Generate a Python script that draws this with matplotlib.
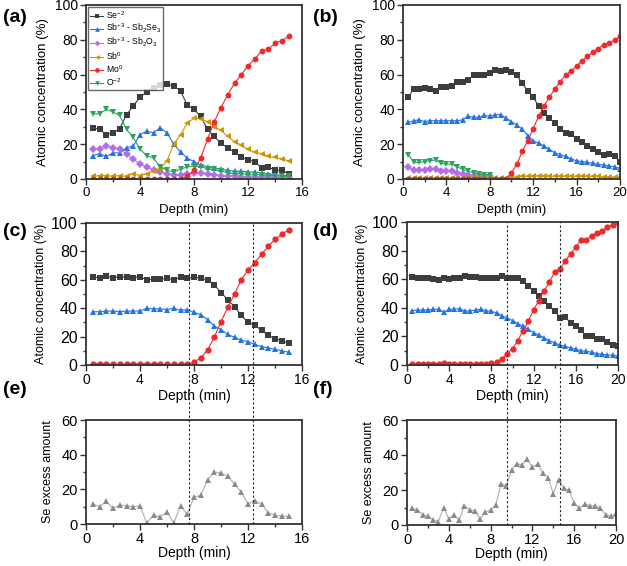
import numpy as np
import matplotlib
matplotlib.use('Agg')
import matplotlib.pyplot as plt
from matplotlib.lines import Line2D
from matplotlib.ticker import MultipleLocator
import matplotlib.transforms as mtransforms

plt.rcParams['font.family'] = ['Liberation Sans', 'DejaVu Sans']
plt.rcParams['mathtext.fontset'] = 'custom'
plt.rcParams['mathtext.rm'] = 'Liberation Sans'

# ---- data ----
depth_a = np.arange(1, 31) * 0.5
se_a = [29.5, 28.5, 25.5, 26.5, 29, 37, 42, 47, 50, 52.5, 54, 54.5, 53.5, 50.5, 42.5,
        40, 36, 28.5, 24.5, 20.5, 18, 15.5, 12.5, 11, 10, 6.5, 7, 5, 5, 3]
sbse_a = [13.5, 14.5, 13, 15, 15, 18, 19, 25.5, 27.5, 26.5, 29.5, 26.5, 20, 15.5, 12,
          10, 8, 7, 6.5, 5.5, 5, 4.5, 4.5, 4, 4, 3.5, 3, 2.5, 2, 2]
sbo_a = [17.5, 17.5, 19, 18, 17, 14.5, 11.5, 8.5, 7, 5, 4, 3, 2.5, 2.5, 3,
         3.5, 3.5, 3, 2.5, 2, 1.5, 1.5, 1, 1, 1, 1, 1, 1, 0.5, 0.5]
sb0_a = [1.5, 2, 2, 1.5, 2, 1.5, 3, 2, 3, 4.5, 6, 10.5, 20, 25.5, 32,
         35, 34.5, 33, 30, 28, 24.5, 21.5, 19.5, 17, 15.5, 14.5, 13, 12.5, 11.5, 10.5]
mo_a = [0, 0, 0, 0, 0, 0, 0, 0, 0, 0, 0, 0, 0, 0, 1.5,
        5, 12, 23, 33, 41, 48.5, 55, 60, 65, 69, 73.5, 74.5, 78, 79.5, 82]
o_a = [37.5, 37.5, 40, 38.5, 36.5, 28.5, 24, 17, 13.5, 12, 7, 5, 4, 5.5, 7,
       7.5, 7, 6, 5.5, 4.5, 3.5, 3, 3, 2.5, 2.5, 2.5, 2, 2, 1.5, 1.5]

depth_b = np.arange(1, 41) * 0.5
se_b = [47, 52, 52, 52.5, 51.5, 50.5, 53, 53, 53.5, 55.5, 56, 57, 59.5, 60, 60, 61, 62.5, 62, 62.5, 61.5,
        59.5, 55, 50.5, 47, 42, 38, 35, 32, 29, 26.5, 26, 23, 21, 19, 17.5, 15.5, 14, 14.5, 13, 10]
sbse_b = [32.5, 33.5, 34, 33, 33.5, 33.5, 33.5, 33.5, 33.5, 33.5, 34, 36, 35.5, 35.5, 36.5, 36, 37, 37, 35, 33,
          31, 28.5, 25, 22, 20.5, 19, 17, 15, 14, 13, 11.5, 10.5, 10, 9.5, 9, 8.5, 8, 7.5, 7, 6]
sbo_b = [7, 5, 5, 5, 5.5, 5.5, 4.5, 4.5, 4.5, 3.5, 3, 2.5, 2, 2, 1.5, 1.5]
sb0_b = [0.3] * 18 + [0.5, 1, 1, 1.5, 1.5, 1.5, 2, 2, 1.5, 1.5, 1.5, 1.5, 1.5, 1.5, 1.5, 1.5, 1.5, 1.5, 1, 1, 1, 1]
mo_b = [0] * 19 + [3.5, 8.5, 16, 22, 29, 36, 42, 47, 52, 56, 60, 62, 65, 68, 70.5, 73, 75, 77, 78, 80, 82]
o_b = [14, 9.5, 9.5, 10, 10.5, 11, 9, 8.5, 8.5, 7, 5.5, 4.5, 3.5, 3, 2.5, 2.5]

se_c = [62, 61.5, 62.5, 61.5, 62, 62, 61.5, 62, 60, 60.5, 60.5, 61, 60, 62, 61,
        62, 61, 60, 56.5, 51, 46, 41, 35, 30, 28, 24.5, 21, 18.5, 17, 15.5]
sbse_c = [37.5, 37.5, 38, 38, 37.5, 38, 38, 38, 40, 39.5, 39.5, 39, 40, 38.5, 39,
          37, 35.5, 32, 27.5, 25, 21.5, 19.5, 17.5, 16.5, 14.5, 13, 12, 11, 10, 9]
mo_c = [1, 1, 0.5, 0.5, 0.5, 0.5, 1, 0.5, 1, 0.5, 0.5, 0.5, 0.5, 0.5, 0.5,
        2, 5, 10.5, 19.5, 30.5, 40.5, 50, 60, 67, 72, 78, 83.5, 88.5, 92, 95]

se_d = [61.5, 61, 60.5, 60.5, 60, 59.5, 61, 60, 61, 61, 62, 61.5, 61.5, 60.5, 60.5, 61, 61, 62.5, 61, 60.5,
        60.5, 58.5, 55, 52, 48, 45, 41, 38, 33, 33.5, 29.5, 27, 24.5, 20, 20.5, 18.5, 18, 16, 14, 13]
sbse_d = [38, 38.5, 38.5, 38.5, 39, 39, 37, 39, 39, 39.5, 37.5, 38, 38.5, 39, 38, 37.5, 36.5, 34.5, 33, 31,
          29, 27, 25, 22.5, 21, 19, 17, 15.5, 14, 13, 12, 11, 10, 9.5, 9, 8, 7.5, 7, 7, 6]
mo_d = [0.5, 1, 1, 1, 1, 1, 1.5, 1, 0.5, 0.5, 0.5, 0.5, 0.5, 0.5, 1, 1.5, 2, 4, 8, 11.5,
        17, 24, 30.5, 38.5, 45, 52, 58, 65, 67, 73, 77.5, 82.5, 87.5, 87.5, 90.5, 92, 94, 96.5, 98, 100]

excess_e = [11.5, 10, 13, 9, 11, 10.5, 10, 10.5, 0.5, 5, 4, 7, 0.5, 10.5, 5.5,
            15.5, 16.5, 25.5, 30, 29.5, 27.5, 23, 18.5, 11.5, 13.5, 11.5, 6.5, 5, 4.5, 4.5]
excess_f = [9.5, 8.5, 6, 5, 3, 2, 10, 3.5, 6, 3, 11, 8.5, 8, 3.5, 7.5, 8.5, 11.5, 23.5, 22.5, 31.5,
            35, 34.5, 37.5, 33, 35, 29.5, 27, 18, 26, 21, 20, 12.5, 9.5, 12, 11, 11, 9.5, 6, 5, 6.5]

vlines_ce = [7.65, 12.35]
vlines_df = [9.5, 14.5]

# ---- style ----
c_se = '#3d3d3d'
c_sbse = '#2472e3'
c_sbo = '#b46ee6'
c_sb0 = '#cf9500'
c_mo = '#f02a2a'
c_o = '#2ba55a'
c_ex = '#8a8a8a'

W, H = 627, 566
fig = plt.figure(figsize=(W / 100, H / 100), dpi=100)


def box(l, t, r, b):
    return [l / W, 1 - b / H, (r - l) / W, (b - t) / H]


ax_a = fig.add_axes(box(86, 5, 302, 179))
ax_b = fig.add_axes(box(403, 5, 620, 179))
ax_c = fig.add_axes(box(86, 223, 302, 365))
ax_d = fig.add_axes(box(407, 222, 618, 365))
ax_e = fig.add_axes(box(86, 420, 302, 524))
ax_f = fig.add_axes(box(407, 420, 616, 525))


def series(ax, x, y, color, marker, label=None, ms=4.2):
    ax.plot(x[:len(y)], y, color=color, lw=0.8, marker=marker, ms=ms,
            markeredgewidth=0, label=label)


def style(ax, xmax, ymax, ystep, ytsize, xtsize):
    ax.set_xlim(0, xmax)
    ax.set_ylim(0, ymax)
    ax.xaxis.set_major_locator(MultipleLocator(4))
    ax.xaxis.set_minor_locator(MultipleLocator(2))
    ax.yaxis.set_major_locator(MultipleLocator(ystep))
    ax.yaxis.set_minor_locator(MultipleLocator(ystep / 2))
    ax.tick_params(which='both', direction='out', top=False, right=False,
                   color='#333333', width=1)
    ax.tick_params(which='major', length=4)
    ax.tick_params(which='minor', length=2)
    ax.tick_params(axis='y', labelsize=ytsize, pad=2)
    ax.tick_params(axis='x', labelsize=xtsize, pad=2)
    for s in ax.spines.values():
        s.set_color('#333333')
        s.set_linewidth(1.3)


# (a)
series(ax_a, depth_a, se_a, c_se, 's', 'Se$^{-2}$')
series(ax_a, depth_a, sbse_a, c_sbse, '^', 'Sb$^{+3}$ - Sb$_2$Se$_3$')
series(ax_a, depth_a, sbo_a, c_sbo, 'D', 'Sb$^{+3}$ - Sb$_2$O$_3$', ms=3.6)
series(ax_a, depth_a, sb0_a, c_sb0, '<', 'Sb$^0$')
series(ax_a, depth_a, mo_a, c_mo, 'o', 'Mo$^0$')
series(ax_a, depth_a, o_a, c_o, 'v', 'O$^{-2}$')
style(ax_a, 16, 100, 20, 10, 9.5)
leg = ax_a.legend(loc='upper left', fontsize=6.2, frameon=True, fancybox=False,
                  edgecolor='#444444', handlelength=1.5, handletextpad=0.3,
                  labelspacing=0.12, borderpad=0.25, borderaxespad=0.25, markerscale=0.8)
leg.get_frame().set_linewidth(1.0)

# (b)
series(ax_b, depth_b, se_b, c_se, 's')
series(ax_b, depth_b, sbse_b, c_sbse, '^')
series(ax_b, depth_b, sbo_b, c_sbo, 'D', ms=3.6)
series(ax_b, depth_b, sb0_b, c_sb0, '<')
series(ax_b, depth_b, mo_b, c_mo, 'o')
series(ax_b, depth_b, o_b, c_o, 'v')
style(ax_b, 20, 100, 20, 10, 9.5)

# (c)
series(ax_c, depth_a, se_c, c_se, 's', ms=4.5)
series(ax_c, depth_a, sbse_c, c_sbse, '^', ms=4.5)
series(ax_c, depth_a, mo_c, c_mo, 'o', ms=4.5)
style(ax_c, 16, 100, 20, 11.5, 10)

# (d)
series(ax_d, depth_b, se_d, c_se, 's', ms=4.5)
series(ax_d, depth_b, sbse_d, c_sbse, '^', ms=4.5)
series(ax_d, depth_b, mo_d, c_mo, 'o', ms=4.5)
style(ax_d, 20, 100, 20, 11.5, 10)

# (e), (f)
ax_e.plot(depth_a, excess_e, color='#b0b0b0', lw=0.8)
ax_e.plot(depth_a, excess_e, ls='none', marker='^', ms=4.8, color=c_ex, markeredgewidth=0)
style(ax_e, 16, 60, 20, 10.5, 10.5)
ax_f.plot(depth_b, excess_f, color='#b0b0b0', lw=0.8)
ax_f.plot(depth_b, excess_f, ls='none', marker='^', ms=4.8, color=c_ex, markeredgewidth=0)
style(ax_f, 20, 60, 20, 10.5, 10.5)

for ax in (ax_a, ax_b):
    ax.set_ylabel('Atomic concentration (%)', fontsize=9.5, labelpad=4)
    ax.set_xlabel('Depth (min)', fontsize=9.5, labelpad=3)
for ax in (ax_c, ax_d):
    ax.set_ylabel('Atomic concentration (%)', fontsize=9, labelpad=3)
    ax.set_xlabel('Depth (min)', fontsize=10, labelpad=1)
for ax in (ax_e, ax_f):
    ax.set_ylabel('Se excess amount', fontsize=9, labelpad=5)
    ax.set_xlabel('Depth (min)', fontsize=10, labelpad=0)

# dotted guide lines spanning (c)-(e) and (d)-(f)
for top_ax, bot_ax, xs in ((ax_c, ax_e, vlines_ce), (ax_d, ax_f, vlines_df)):
    tr = mtransforms.blended_transform_factory(top_ax.transData, fig.transFigure)
    y_top = top_ax.get_position().y1
    y_bot = bot_ax.get_position().y0
    for xv in xs:
        fig.add_artist(Line2D([xv, xv], [y_bot, y_top], transform=tr, color='#222222',
                              lw=0.8, ls=(0, (2, 2)), zorder=5))

# panel labels
for lbl, x, y in (('(a)', 3, 18), ('(b)', 313, 18), ('(c)', 3, 232),
                  ('(d)', 313, 231), ('(e)', 3, 390), ('(f)', 313, 389)):
    fig.text(x / W, 1 - y / H, lbl, fontsize=14, fontweight='bold', va='center', ha='left')

fig.savefig('out.png', dpi=100)
